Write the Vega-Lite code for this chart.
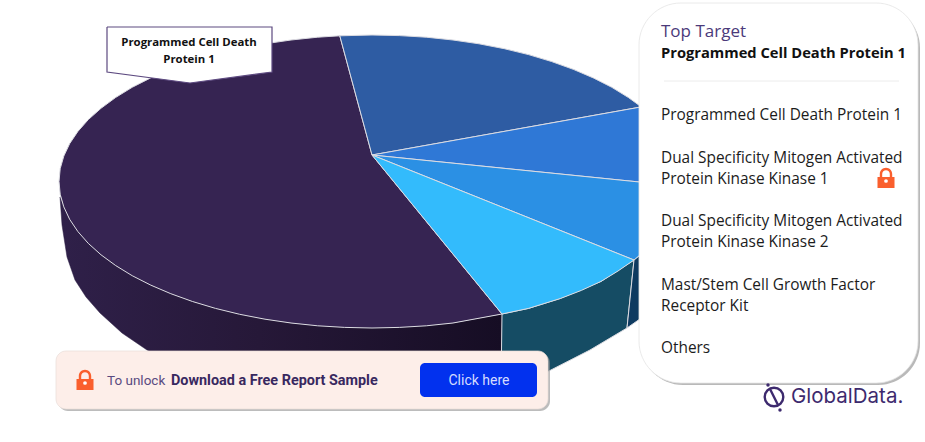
{"$schema":"https://vega.github.io/schema/vega-lite/v6.json","width":925,"height":442,"padding":0,"autosize":{"type":"fit","contains":"padding"},"background":"#ffffff","config":{"view":{"stroke":null}},
"datasets":{
"sidePurple":[{"i":1,"x":502,"y":314},{"i":2,"x":453,"y":323},{"i":3,"x":399,"y":327},{"i":4,"x":345,"y":327},{"i":5,"x":291,"y":323},{"i":6,"x":240,"y":314},{"i":7,"x":192.5,"y":301.5},{"i":8,"x":150.7,"y":285},{"i":9,"x":115.6,"y":265.5},{"i":10,"x":88.3,"y":243.4},{"i":11,"x":69.7,"y":219.4},{"i":12,"x":60,"y":197},{"i":13,"x":62,"y":225},{"i":14,"x":67,"y":257},{"i":15,"x":75,"y":280},{"i":15.5,"x":86,"y":297},{"i":16,"x":100,"y":313},{"i":16.5,"x":122,"y":333},{"i":17,"x":147,"y":350},{"i":18,"x":200,"y":378},{"i":19,"x":300,"y":398},{"i":20,"x":400,"y":400},{"i":21,"x":501,"y":388},{"i":22,"x":502,"y":314}],
"slices":[
{"s":"side cyan","i":1,"x":502,"y":314},{"s":"side cyan","i":2,"x":528.5,"y":308.4},{"s":"side cyan","i":3,"x":560,"y":298.5},{"s":"side cyan","i":4,"x":601,"y":281.4},{"s":"side cyan","i":5,"x":634,"y":260},{"s":"side cyan","i":6,"x":627,"y":328},{"s":"side cyan","i":7,"x":590,"y":350},{"s":"side cyan","i":8,"x":547,"y":372},{"s":"side cyan","i":9,"x":501,"y":388},{"s":"side cyan","i":10,"x":502,"y":314},
{"s":"side blue","i":1,"x":634,"y":260},{"s":"side blue","i":2,"x":662,"y":236},{"s":"side blue","i":3,"x":685,"y":190},{"s":"side blue","i":4,"x":690,"y":270},{"s":"side blue","i":5,"x":660,"y":305},{"s":"side blue","i":6,"x":627,"y":328},{"s":"side blue","i":7,"x":634,"y":260},
{"s":"PD1","i":0,"x":372,"y":155},{"s":"PD1","i":1,"x":502,"y":314},{"s":"PD1","i":2,"x":453,"y":323},{"s":"PD1","i":2.5,"x":426.3,"y":325.8},{"s":"PD1","i":3,"x":399.3,"y":327.4},{"s":"PD1","i":3.5,"x":372,"y":328},{"s":"PD1","i":4,"x":344.7,"y":327.4},{"s":"PD1","i":4.5,"x":317.7,"y":325.8},{"s":"PD1","i":5,"x":291,"y":323},{"s":"PD1","i":5.5,"x":265,"y":319.2},{"s":"PD1","i":6,"x":239.7,"y":314.3},{"s":"PD1","i":6.5,"x":215.5,"y":308.4},{"s":"PD1","i":7,"x":192.5,"y":301.5},{"s":"PD1","i":7.5,"x":170.8,"y":293.7},{"s":"PD1","i":8,"x":150.7,"y":285.1},{"s":"PD1","i":8.5,"x":132.2,"y":275.7},{"s":"PD1","i":9,"x":115.6,"y":265.5},{"s":"PD1","i":9.5,"x":101,"y":254.8},{"s":"PD1","i":10,"x":88.3,"y":243.4},{"s":"PD1","i":10.5,"x":77.9,"y":231.6},{"s":"PD1","i":11,"x":69.7,"y":219.4},{"s":"PD1","i":11.5,"x":63.8,"y":206.9},{"s":"PD1","i":12,"x":60.2,"y":194.3},{"s":"PD1","i":12.5,"x":59,"y":181.5},{"s":"PD1","i":13,"x":60.2,"y":168.7},{"s":"PD1","i":13.5,"x":63.8,"y":156.1},{"s":"PD1","i":14,"x":69.7,"y":143.6},{"s":"PD1","i":14.5,"x":77.9,"y":131.4},{"s":"PD1","i":15,"x":88.3,"y":119.6},{"s":"PD1","i":15.5,"x":101,"y":108.3},{"s":"PD1","i":16,"x":115.6,"y":97.5},{"s":"PD1","i":16.5,"x":132.2,"y":87.3},{"s":"PD1","i":17,"x":150.7,"y":77.9},{"s":"PD1","i":17.5,"x":170.8,"y":69.3},{"s":"PD1","i":18,"x":192.5,"y":61.5},{"s":"PD1","i":18.5,"x":215.5,"y":54.6},{"s":"PD1","i":19,"x":239.7,"y":48.7},{"s":"PD1","i":19.5,"x":265,"y":43.8},{"s":"PD1","i":20,"x":291,"y":40},{"s":"PD1","i":20.5,"x":317.7,"y":37.2},{"s":"PD1","i":21,"x":339.8,"y":35.8},{"s":"PD1","i":22,"x":372,"y":155},
{"s":"MEK1","i":0,"x":372,"y":155},{"s":"MEK1","i":1,"x":339.8,"y":35.8},{"s":"MEK1","i":1.5,"x":372,"y":35},{"s":"MEK1","i":2,"x":399.3,"y":35.6},{"s":"MEK1","i":2.5,"x":426.3,"y":37.2},{"s":"MEK1","i":3,"x":453,"y":40},{"s":"MEK1","i":3.5,"x":479,"y":43.8},{"s":"MEK1","i":4,"x":504.3,"y":48.7},{"s":"MEK1","i":4.5,"x":528.5,"y":54.6},{"s":"MEK1","i":5,"x":551.5,"y":61.5},{"s":"MEK1","i":5.5,"x":573.2,"y":69.3},{"s":"MEK1","i":6,"x":593.3,"y":77.9},{"s":"MEK1","i":6.5,"x":611.8,"y":87.3},{"s":"MEK1","i":7,"x":628.4,"y":97.5},{"s":"MEK1","i":8,"x":641.4,"y":106.9},{"s":"MEK1","i":9,"x":372,"y":155},
{"s":"MEK2","i":0,"x":372,"y":155},{"s":"MEK2","i":1,"x":641.4,"y":106.9},{"s":"MEK2","i":2,"x":655.7,"y":119.6},{"s":"MEK2","i":3,"x":674.3,"y":143.6},{"s":"MEK2","i":4,"x":683.8,"y":168.7},{"s":"MEK2","i":5,"x":684.8,"y":186.6},{"s":"MEK2","i":6,"x":372,"y":155},
{"s":"KIT","i":0,"x":372,"y":155},{"s":"KIT","i":1,"x":684.8,"y":186.6},{"s":"KIT","i":2,"x":678.1,"y":212},{"s":"KIT","i":3,"x":662.2,"y":236.4},{"s":"KIT","i":4,"x":634,"y":260},{"s":"KIT","i":5,"x":372,"y":155},
{"s":"Others","i":0,"x":372,"y":155},{"s":"Others","i":1,"x":634,"y":260},{"s":"Others","i":1.5,"x":618,"y":271},{"s":"Others","i":2,"x":601,"y":281.4},{"s":"Others","i":2.5,"x":581.4,"y":290.4},{"s":"Others","i":3,"x":560.4,"y":298.5},{"s":"Others","i":4,"x":528.5,"y":308.4},{"s":"Others","i":5,"x":502,"y":314},{"s":"Others","i":6,"x":372,"y":155}],
"callout":[{"i":1,"x":107,"y":27},{"i":2,"x":272,"y":27},{"i":3,"x":272,"y":72},{"i":4,"x":190,"y":83},{"i":5,"x":107,"y":72},{"i":6,"x":107,"y":27}],
"panelShadow":[{"x":641,"x2":920,"y":6,"y2":385}],
"panel":[{"x":639,"x2":918,"y":3,"y2":383}],
"boxShadow":[{"x":58,"x2":550,"y":353,"y2":411}],
"box":[{"x":56,"x2":548,"y":351,"y2":409}],
"button":[{"x":420,"x2":537,"y":363,"y2":397}],
"divider":[{"x":664,"x2":899,"y":81,"y2":81}],
"locks":[{"x":886,"y":178},{"x":85,"y":380}],
"keyholes":[{"x":886,"y":181},{"x":85,"y":383}],
"panelText":[{"t":"Programmed Cell Death Protein 1","x":661,"y":115},{"t":"Dual Specificity Mitogen Activated","x":661,"y":158},{"t":"Protein Kinase Kinase 1","x":661,"y":179},{"t":"Dual Specificity Mitogen Activated","x":661,"y":221},{"t":"Protein Kinase Kinase 2","x":661,"y":242},{"t":"Mast/Stem Cell Growth Factor","x":661,"y":285},{"t":"Receptor Kit","x":661,"y":306},{"t":"Others","x":661,"y":348}],
"calloutText":[{"t":"Programmed Cell Death","x":189,"y":43},{"t":"Protein 1","x":189,"y":60}]
},
"encoding":{"x":{"field":"x","type":"quantitative","scale":{"domain":[0,925],"nice":false,"zero":false},"axis":null},"y":{"field":"y","type":"quantitative","scale":{"domain":[442,0],"nice":false,"zero":false},"axis":null}},
"layer":[
{"data":{"name":"sidePurple"},"mark":{"type":"line","fill":{"gradient":"linear","x1":0,"x2":1,"y1":0,"y2":0,"stops":[{"offset":0,"color":"#2f2049"},{"offset":0.45,"color":"#261838"},{"offset":1,"color":"#160d24"}]},"stroke":"#2a1c42","strokeWidth":0.5},"encoding":{"order":{"field":"i"}}},
{"data":{"name":"slices"},"mark":{"type":"line","stroke":"#dcdce2","strokeWidth":1,"strokeJoin":"round"},"encoding":{"order":{"field":"i"},"fill":{"field":"s","type":"nominal","legend":null,"scale":{"domain":["side cyan","side blue","PD1","MEK1","MEK2","KIT","Others"],"range":["#154c64","#0e3a60","#362452","#2e5ca3","#2f78d6","#2b90e4","#33bbfc"]}}}},
{"data":{"name":"callout"},"mark":{"type":"line","fill":"#ffffff","stroke":"#5d4a80","strokeWidth":1.2},"encoding":{"order":{"field":"i"}}},
{"data":{"name":"calloutText"},"mark":{"type":"text","font":"Open Sans","fontWeight":"bold","fontSize":11.4,"color":"#111111","align":"center","baseline":"middle"},"encoding":{"text":{"field":"t"}}},
{"data":{"name":"boxShadow"},"mark":{"type":"rect","fill":"#8f8f8f","opacity":0.6,"cornerRadius":10},"encoding":{"x2":{"field":"x2"},"y2":{"field":"y2"}}},
{"data":{"name":"box"},"mark":{"type":"rect","fill":"#fdeee9","stroke":"#e8dcd8","strokeWidth":0.7,"cornerRadius":10},"encoding":{"x2":{"field":"x2"},"y2":{"field":"y2"}}},
{"data":{"name":"button"},"mark":{"type":"rect","fill":"#0231ee","cornerRadius":5},"encoding":{"x2":{"field":"x2"},"y2":{"field":"y2"}}},
{"data":{"values":[{"t":"Click here","x":479,"y":381}]},"mark":{"type":"text","font":"Roboto","fontSize":14,"color":"#d5dcff","align":"center","baseline":"middle"},"encoding":{"text":{"field":"t"}}},
{"data":{"values":[{"t":"To unlock","x":107,"y":381}]},"mark":{"type":"text","font":"Roboto","fontSize":13.5,"color":"#5a4a80","align":"left","baseline":"middle"},"encoding":{"text":{"field":"t"}}},
{"data":{"values":[{"t":"Download a Free Report Sample","x":171,"y":381}]},"mark":{"type":"text","font":"Roboto","fontWeight":"bold","fontSize":14.4,"color":"#38285f","align":"left","baseline":"middle"},"encoding":{"text":{"field":"t"}}},
{"data":{"name":"panelShadow"},"mark":{"type":"rect","fill":"#8a8a8a","opacity":0.6,"cornerRadius":42},"encoding":{"x2":{"field":"x2"},"y2":{"field":"y2"}}},
{"data":{"name":"panel"},"mark":{"type":"rect","fill":"#ffffff","stroke":"#e4e4e4","strokeWidth":0.8,"cornerRadius":42},"encoding":{"x2":{"field":"x2"},"y2":{"field":"y2"}}},
{"data":{"name":"divider"},"mark":{"type":"rule","stroke":"#ececec","strokeWidth":1},"encoding":{"x2":{"field":"x2"},"y2":{"field":"y2"}}},
{"data":{"values":[{"t":"Top Target","x":661,"y":32}]},"mark":{"type":"text","font":"Open Sans","fontSize":17,"color":"#4b3a7a","align":"left","baseline":"middle"},"encoding":{"text":{"field":"t"}}},
{"data":{"values":[{"t":"Programmed Cell Death Protein 1","x":661,"y":54}]},"mark":{"type":"text","font":"Open Sans","fontWeight":"bold","fontSize":14.7,"color":"#111111","align":"left","baseline":"middle"},"encoding":{"text":{"field":"t"}}},
{"data":{"name":"panelText"},"mark":{"type":"text","font":"Open Sans","fontSize":15.4,"color":"#1c1c1c","align":"left","baseline":"middle"},"encoding":{"text":{"field":"t"}}},
{"data":{"name":"locks"},"mark":{"type":"point","filled":true,"fill":"#fa5f2d","opacity":1,"strokeWidth":0,"size":400,"shape":"M-0.85,-0.1 L-0.62,-0.1 L-0.62,-0.4 A0.62,0.62 0 0 1 0.62,-0.4 L0.62,-0.1 L0.85,-0.1 L0.85,1 L-0.85,1 Z M-0.38,-0.1 L0.38,-0.1 L0.38,-0.4 A0.38,0.38 0 0 0 -0.38,-0.4 Z"}},
{"data":{"name":"keyholes"},"mark":{"type":"point","filled":true,"fill":"#ffffff","opacity":1,"size":14,"shape":"circle"}},
{"data":{"values":[{"x":774,"y":397}]},"mark":{"type":"point","filled":false,"stroke":"#3d2a6e","strokeWidth":2.4,"opacity":1,"size":346,"shape":"circle"}},
{"data":{"values":[{"x":770,"y":389,"x2":778,"y2":405}]},"mark":{"type":"rule","stroke":"#3d2a6e","strokeWidth":2.4},"encoding":{"x2":{"field":"x2"},"y2":{"field":"y2"}}},
{"data":{"values":[{"x":768,"y":385},{"x":780,"y":410}]},"mark":{"type":"point","filled":true,"fill":"#3d2a6e","opacity":1,"size":12,"shape":"circle"}},
{"data":{"values":[{"t":"GlobalData.","x":791,"y":397}]},"mark":{"type":"text","font":"Inter","fontSize":20.5,"color":"#3d2a6e","align":"left","baseline":"middle"},"encoding":{"text":{"field":"t"}}}
]}
